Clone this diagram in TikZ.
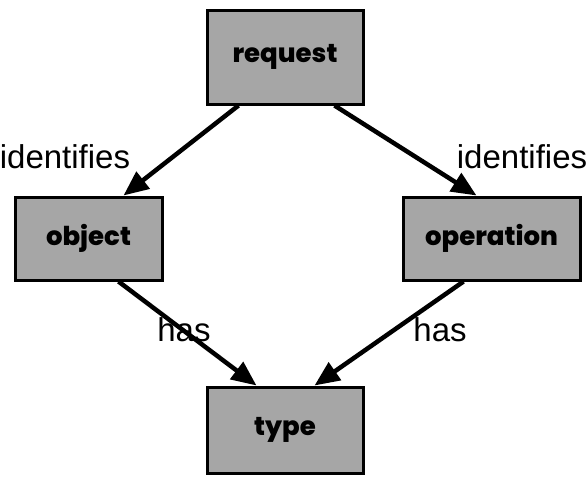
\documentclass[tikz,border=0pt]{standalone}
\usepackage{fontspec}
\setmainfont{Liberation Sans}
\newfontfamily\boxfont{Poppins}[BoldFont={Poppins ExtraBold}]
\usetikzlibrary{arrows.meta}
\tikzset{
  thing/.style={draw=black, line width=3pt, fill=black!35, inner sep=0pt,
    font=\boxfont\bfseries\fontsize{26}{28}\selectfont},
  rel/.style={line width=4.5pt, -{Triangle[length=25pt,width=21pt]}},
  lbl/.style={font=\fontsize{33}{36}\selectfont, inner sep=0pt}
}

\begin{document}
\begin{tikzpicture}[x=1pt,y=-1pt]
		%%%%% START %%%%%
		\useasboundingbox (0,0) rectangle (588,488);
		
		\node[thing, minimum width=156pt, minimum height=94pt] (request) at (285,57) {request};
		\node[thing, minimum width=147pt, minimum height=83pt] (object) at (88.5,238.5) {object};
		\node[thing, minimum width=177pt, minimum height=83pt] (operation) at (491.5,238.5) {operation};
		\node[thing, minimum width=156pt, minimum height=86pt] (type) at (285,430) {type};
		
		\draw[rel] ([xshift=33pt]request.south west) -- ([xshift=110pt]object.north west);
		\draw[rel] ([xshift=-30pt]request.south east) -- ([xshift=75pt]operation.north west);
		\draw[rel] ([xshift=105pt]object.south west) -- ([xshift=51pt]type.north west);
		\draw[rel] ([xshift=62pt]operation.south west) -- ([xshift=-50pt]type.north east);
		
		\node[lbl] (idobj) at (65,157) {identifies};
		\node[lbl] (idop) at (522,157) {identifies};
		\node[lbl] (hasobj) at (184,330) {has};
		\node[lbl] (hasop) at (440,330) {has};
		
		%%%%% END %%%%%
	\end{tikzpicture}
\end{document}
